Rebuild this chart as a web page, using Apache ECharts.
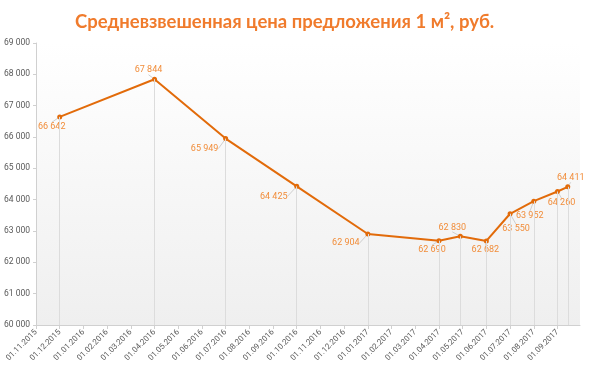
<!DOCTYPE html>
<html>
<head>
<meta charset="utf-8">
<script src="https://cdn.jsdelivr.net/npm/echarts@6/dist/echarts.min.js"></script>
<style>
  html, body { margin: 0; padding: 0; background: #fff; }
  #chart { width: 590px; height: 375px; }
</style>
</head>
<body>
<div id="chart"></div>
<script>
// точки наблюдения
const dates = ['2015-12-01', '2016-04-01', '2016-07-01', '2016-10-01', '2017-01-01',
  '2017-04-01', '2017-04-28', '2017-06-01', '2017-07-01', '2017-08-01', '2017-09-01', '2017-09-14'];
const prices = [66642, 67844, 65949, 64425, 62904, 62690, 62830, 62682, 63550, 63952, 64260, 64411];

const tickLabels = ['01.11.2015', '01.12.2015', '01.01.2016', '01.02.2016', '01.03.2016', '01.04.2016',
  '01.05.2016', '01.06.2016', '01.07.2016', '01.08.2016', '01.09.2016', '01.10.2016', '01.11.2016',
  '01.12.2016', '01.01.2017', '01.02.2017', '01.03.2017', '01.04.2017', '01.05.2017', '01.06.2017',
  '01.07.2017', '01.08.2017', '01.09.2017'];

// сдвиг подписей относительно точки
const labelShift = [[-8, 10], [-6, -9], [-21, 10], [-23, 10], [-22, 9], [-7, 9],
  [-8, -9], [-1, 9], [6, 15], [-4, 15], [4, 11], [3, -9]];

// месяцев от 01.11.2015
function monthIndex(s) {
  const [y, m, d] = s.split('-').map(Number);
  const days = new Date(y, m, 0).getDate();
  return (y - 2015) * 12 + (m - 11) + (d - 1) / days;
}

const fmt = v => String(v).replace(/\B(?=(\d{3})+(?!\d))/g, ' ');

const points = dates.map((d, i) => [monthIndex(d), prices[i]]);

const chart = echarts.init(document.getElementById('chart'));
chart.setOption({
  animation: false,
  title: {
    text: 'Средневзвешенная цена предложения 1 м², руб.',
    left: 70,
    top: 8,
    textStyle: { color: '#f07b2c', fontSize: 18.5, fontWeight: 'bold', fontFamily: 'Lato' }
  },
  grid: {
    left: 36, right: 10, top: 43, bottom: 50,
    show: true,
    borderWidth: 0,
    backgroundColor: new echarts.graphic.LinearGradient(0, 0, 0, 1, [
      { offset: 0, color: '#ffffff' },
      { offset: 1, color: '#efefef' }
    ])
  },
  xAxis: {
    type: 'value',
    min: 0,
    max: 22.95,
    interval: 1,
    axisLine: { lineStyle: { color: '#d0d0d0' } },
    axisTick: { show: true, length: 4, lineStyle: { color: '#d0d0d0' } },
    splitLine: { show: false },
    axisLabel: {
      rotate: 45,
      fontSize: 8,
      color: '#595959',
      fontFamily: 'Roboto',
      margin: 6,
      showMaxLabel: false,
      formatter: v => Number.isInteger(v) ? (tickLabels[v] || '') : ''
    }
  },
  yAxis: {
    type: 'value',
    min: 60000,
    max: 69000,
    interval: 1000,
    axisLine: { show: true, lineStyle: { color: '#d0d0d0' } },
    axisTick: { show: true, length: 3, lineStyle: { color: '#d0d0d0' } },
    splitLine: { show: false },
    axisLabel: { fontSize: 8.5, color: '#595959', fontFamily: 'Roboto', margin: 6, formatter: fmt }
  },
  series: [{
    type: 'line',
    data: points,
    symbol: 'circle',
    symbolSize: 5,
    lineStyle: { color: '#e26b0a', width: 2 },
    itemStyle: { color: '#e26b0a' },
    label: {
      show: true,
      position: 'inside',
      color: '#f18d3a',
      fontSize: 9,
      fontFamily: 'Roboto',
      formatter: p => fmt(p.value[1])
    },
    labelLine: { show: true, lineStyle: { color: '#cfcfcf', width: 1 } },
    labelLayout: p => ({ dx: labelShift[p.dataIndex][0], dy: labelShift[p.dataIndex][1] }),
    markLine: {
      silent: true,
      symbol: 'none',
      label: { show: false },
      lineStyle: { color: '#dcdcdc', width: 1, type: 'solid' },
      data: points.map(p => [{ coord: p }, { coord: [p[0], 60000] }])
    },
    z: 3
  }]
});
</script>
</body>
</html>
